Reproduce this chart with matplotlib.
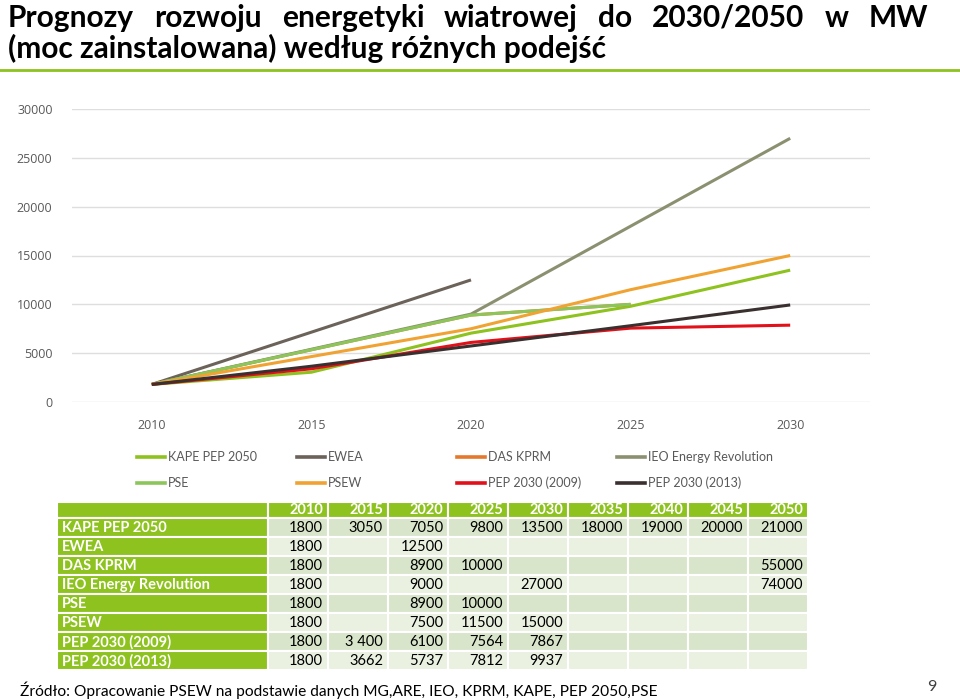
import matplotlib
matplotlib.use('Agg')
import matplotlib.pyplot as plt
from matplotlib.patches import Rectangle
from matplotlib.lines import Line2D

plt.rcParams['font.family'] = ['Lato', 'DejaVu Sans']

# chart categories (x axis) and table columns
chart_years = ['2010', '2015', '2020', '2025', '2030']
table_years = ['2010', '2015', '2020', '2025', '2030', '2035', '2040', '2045', '2050']

series_names = ['KAPE PEP 2050', 'EWEA', 'DAS KPRM', 'IEO Energy Revolution',
                'PSE', 'PSEW', 'PEP 2030 (2009)', 'PEP 2030 (2013)']

# values in MW, one per table column (None = no data)
kape = [1800, 3050, 7050, 9800, 13500, 18000, 19000, 20000, 21000]
ewea = [1800, None, 12500, None, None, None, None, None, None]
das_kprm = [1800, None, 8900, 10000, None, None, None, None, 55000]
ieo = [1800, None, 9000, None, 27000, None, None, None, 74000]
pse = [1800, None, 8900, 10000, None, None, None, None, None]
psew = [1800, None, 7500, 11500, 15000, None, None, None, None]
pep2009 = [1800, 3400, 6100, 7564, 7867, None, None, None, None]
pep2013 = [1800, 3662, 5737, 7812, 9937, None, None, None, None]
all_series = [kape, ewea, das_kprm, ieo, pse, psew, pep2009, pep2013]

# the source table writes this one with a space
text_override = {(6, 1): '3 400'}

series_colors = ['#8dc21f', '#6b625a', '#e5782b', '#8b9170',
                 '#8cc65a', '#f0a332', '#e3101a', '#3a3030']

title_line1 = ['Prognozy', 'rozwoju', 'energetyki', 'wiatrowej', 'do', '2030/2050', 'w', 'MW']
title_line2 = '(moc zainstalowana) według różnych podejść'
source_text = 'Źródło: Opracowanie PSEW na podstawie danych MG,ARE, IEO, KPRM, KAPE, PEP 2050,PSE'

W, H = 960, 699
fig = plt.figure(figsize=(W / 100, H / 100), dpi=100)

# overlay in pixel coordinates for title, legend, table and footer
ov = fig.add_axes([0, 0, 1, 1])
ov.set_xlim(0, W)
ov.set_ylim(H, 0)
ov.axis('off')

# ---- line chart ----
ax = fig.add_axes([72 / W, 1 - 402 / H, (870 - 72) / W, (402 - 109) / H])
n = len(chart_years)
for name, vals, col in zip(series_names, all_series, series_colors):
    xs = [i for i in range(n) if vals[i] is not None]
    ys = [vals[i] for i in xs]
    ax.plot(xs, ys, color=col, lw=2.2, solid_capstyle='butt', label=name)

ax.set_xlim(-0.5, n - 0.5)
ax.set_ylim(0, 30000)
ax.set_yticks(range(0, 30001, 5000))
ax.set_xticks(range(n))
ax.set_xticklabels(chart_years)
ax.grid(axis='y', color='#dedede', lw=1)
ax.set_axisbelow(True)
for s in ax.spines.values():
    s.set_visible(False)
ax.tick_params(length=0, labelcolor='#595959', labelsize=9)
ax.tick_params(axis='y', pad=14)
ax.tick_params(axis='x', pad=12)
for lab in ax.get_xticklabels() + ax.get_yticklabels():
    lab.set_family(['Open Sans', 'DejaVu Sans'])

# ---- legend (4 columns x 2 rows) ----
for i, (name, col) in enumerate(zip(series_names, series_colors)):
    x0 = 137 + 160 * (i % 4)
    y0 = 457 + 26 * (i // 4)
    ov.add_line(Line2D([x0, x0 + 28], [y0, y0], color=col, lw=2.6))
    ov.text(x0 + 31, y0, name, fontsize=9, color='#595959', va='center', ha='left')

# ---- title (first line justified) ----
fig.canvas.draw()
renderer = fig.canvas.get_renderer()
words = [ov.text(0, 27, w, fontsize=21.5, fontweight='bold', color='black',
                 va='baseline', ha='left') for w in title_line1]
widths = [t.get_window_extent(renderer).width for t in words]
left, right = 8, 928
gap = (right - left - sum(widths)) / (len(words) - 1)
x = left
for t, wd in zip(words, widths):
    t.set_x(x)
    x += wd + gap
ov.text(8, 58, title_line2, fontsize=21.5, fontweight='bold', color='black',
        va='baseline', ha='left')
ov.add_line(Line2D([0, W], [70, 70], color='#8dc21f', lw=2))

# ---- table ----
col_edges = [57, 268, 328, 388, 448, 508, 568, 628, 688, 748, 808]
row_edges = [502, 518] + [518 + 19 * (k + 1) for k in range(len(series_names))]
green = '#8dc21f'
row_fill = ['#d8e5ca', '#eaf1e1']

for c in range(len(col_edges) - 1):
    x0, x1 = col_edges[c], col_edges[c + 1]
    ov.add_patch(Rectangle((x0, row_edges[0]), x1 - x0, row_edges[1] - row_edges[0],
                           facecolor=green, edgecolor='white', lw=1.5))
    if c > 0:
        ov.text(x1 - 5, (row_edges[0] + row_edges[1]) / 2 + 0.5, table_years[c - 1],
                fontsize=10.5, fontweight='bold', color='white', ha='right', va='center')

for r, (name, vals) in enumerate(zip(series_names, all_series)):
    y0, y1 = row_edges[r + 1], row_edges[r + 2]
    yc = (y0 + y1) / 2 + 0.5
    ov.add_patch(Rectangle((col_edges[0], y0), col_edges[1] - col_edges[0], y1 - y0,
                           facecolor=green, edgecolor='white', lw=1.5))
    ov.text(col_edges[0] + 5, yc, name, fontsize=10.5, fontweight='bold',
            color='white', ha='left', va='center')
    for c, v in enumerate(vals):
        x0, x1 = col_edges[c + 1], col_edges[c + 2]
        ov.add_patch(Rectangle((x0, y0), x1 - x0, y1 - y0,
                               facecolor=row_fill[r % 2], edgecolor='white', lw=1.5))
        if v is not None:
            txt = text_override.get((r, c), str(v))
            ov.text(x1 - 5, yc, txt, fontsize=10.5, color='black', ha='right', va='center')

# ---- footer ----
ov.text(20, 690, source_text, fontsize=11.2, color='black', ha='left', va='center')
ov.text(932, 687, '9', fontsize=11.5, color='#404040', ha='center', va='center')

fig.savefig('out.png', dpi=100)
